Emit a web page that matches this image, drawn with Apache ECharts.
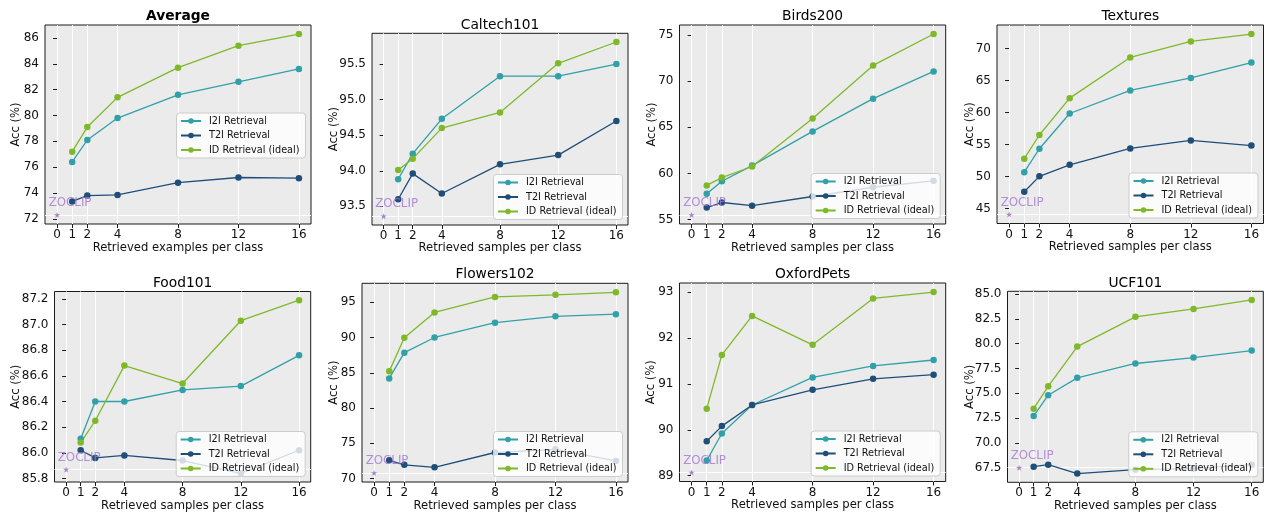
<!DOCTYPE html>
<html><head><meta charset="utf-8">
<script src="https://cdn.jsdelivr.net/npm/echarts@6/dist/echarts.min.js"></script>
<style>html,body{margin:0;padding:0;background:#fff}#c{width:1270px;height:516px}</style>
</head><body><div id="c"></div>
<script>
// ---------------- data ----------------
const xTicks = [0, 1, 2, 4, 8, 12, 16];
const shots = [1, 2, 4, 8, 12, 16];
const titles = ['Average', 'Caltech101', 'Birds200', 'Textures', 'Food101', 'Flowers102', 'OxfordPets', 'UCF101'];
const xNames = ['Retrieved examples per class', 'Retrieved samples per class', 'Retrieved samples per class', 'Retrieved samples per class',
  'Retrieved samples per class', 'Retrieved samples per class', 'Retrieved samples per class', 'Retrieved samples per class'];
const yName = 'Acc (%)';
const seriesNames = ['I2I Retrieval', 'T2I Retrieval', 'ID Retrieval (ideal)'];
const zoclipName = 'ZOCLIP';

const average_i2i = [76.4, 78.1, 79.8, 81.6, 82.6, 83.6];
const average_t2i = [73.35, 73.8, 73.85, 74.8, 75.2, 75.15];
const average_id = [77.2, 79.1, 81.4, 83.7, 85.4, 86.3];

const caltech_i2i = [93.88, 94.24, 94.73, 95.33, 95.33, 95.5];
const caltech_t2i = [93.6, 93.96, 93.68, 94.09, 94.22, 94.7];
const caltech_id = [94.01, 94.17, 94.6, 94.82, 95.51, 95.81];

const birds_i2i = [57.8, 59.15, 60.85, 64.55, 68.1, 71.05];
const birds_t2i = [56.3, 56.85, 56.5, 57.5, 58.5, 59.2];
const birds_id = [58.7, 59.55, 60.75, 65.95, 71.7, 75.1];

const textures_i2i = [50.7, 54.35, 59.85, 63.45, 65.4, 67.8];
const textures_t2i = [47.65, 50.05, 51.85, 54.4, 55.65, 54.85];
const textures_id = [52.8, 56.5, 62.25, 68.6, 71.1, 72.25];

const food_i2i = [86.11, 86.40, 86.40, 86.49, 86.52, 86.76];
const food_t2i = [86.02, 85.96, 85.98, 85.94, 85.84, 86.02];
const food_id = [86.08, 86.25, 86.68, 86.54, 87.03, 87.19];

const flowers_i2i = [84.2, 87.85, 90.0, 92.1, 93.0, 93.3];
const flowers_t2i = [72.6, 71.95, 71.6, 73.7, 74.15, 72.5];
const flowers_id = [85.2, 89.95, 93.55, 95.75, 96.05, 96.4];

const pets_i2i = [89.33, 89.92, 90.54, 91.14, 91.39, 91.52];
const pets_t2i = [89.75, 90.08, 90.54, 90.87, 91.11, 91.2];
const pets_id = [90.46, 91.63, 92.48, 91.85, 92.86, 93.0];

const ucf_i2i = [72.7, 74.8, 76.55, 78.0, 78.6, 79.3];
const ucf_t2i = [67.6, 67.8, 66.9, 67.3, 67.4, 67.8];
const ucf_id = [73.45, 75.7, 79.7, 82.7, 83.5, 84.4];

const zoclip = [72.3, 93.36, 55.5, 44.1, 85.87, 70.8, 89.07, 67.5];

const yTickLabels = [
  ['72', '74', '76', '78', '80', '82', '84', '86'],
  ['93.5', '94.0', '94.5', '95.0', '95.5'],
  ['55', '60', '65', '70', '75'],
  ['45', '50', '55', '60', '65', '70'],
  ['85.8', '86.0', '86.2', '86.4', '86.6', '86.8', '87.0', '87.2'],
  ['70', '75', '80', '85', '90', '95'],
  ['89', '90', '91', '92', '93'],
  ['67.5', '70.0', '72.5', '75.0', '77.5', '80.0', '82.5', '85.0']
];

const panels = [
  [average_i2i, average_t2i, average_id],
  [caltech_i2i, caltech_t2i, caltech_id],
  [birds_i2i, birds_t2i, birds_id],
  [textures_i2i, textures_t2i, textures_id],
  [food_i2i, food_t2i, food_id],
  [flowers_i2i, flowers_t2i, flowers_id],
  [pets_i2i, pets_t2i, pets_id],
  [ucf_i2i, ucf_t2i, ucf_id]
];

// ---------------- layout / style ----------------
const layout = [
  {l: 45, r: 311, t: 25, b: 224, yGap: 23, xGap: 17.5, ty: 16, legTop: 113},
  {l: 372, r: 628, t: 33.3, b: 225, yGap: 32, xGap: 16.5, ty: 25},
  {l: 679.5, r: 945.7, t: 25, b: 224, yGap: 22, xGap: 17.5, ty: 16.7},
  {l: 997, r: 1263.5, t: 25, b: 223.5, yGap: 21, xGap: 17.5, ty: 16.7},
  {l: 54.5, r: 310.7, t: 291.5, b: 482, yGap: 32.5, xGap: 17.5, ty: 283},
  {l: 362, r: 628, t: 283.3, b: 482, yGap: 22.5, xGap: 17.5, ty: 274.7},
  {l: 679.5, r: 945.7, t: 283, b: 481.5, yGap: 22.5, xGap: 17.5, ty: 274.7},
  {l: 1007.5, r: 1263.3, t: 291.3, b: 482.3, yGap: 31.5, xGap: 17.5, ty: 283}
];
const colors = ['#31A0A8', '#1F4E79', '#7FB92A'];
const FONT = 'DejaVu Sans';
const TXT = '#111111';
const starPath = 'path://M0,-10 L2.35,-3.24 L9.51,-3.09 L3.8,1.24 L5.88,8.09 L0,4 L-5.88,8.09 L-3.8,1.24 L-9.51,-3.09 L-2.35,-3.24 Z';

const grid = [], xAxis = [], yAxis = [], series = [], legend = [], graphic = [];

panels.forEach((p, i) => {
  const L = layout[i];
  grid.push({left: L.l, top: L.t, width: L.r - L.l, height: L.b - L.t, show: true,
    backgroundColor: '#EBEBEB', borderColor: '#1a1a1a', borderWidth: 1});
  const all = p.flat().concat([zoclip[i]]);
  const lo = Math.min(...all), hi = Math.max(...all), pad = (hi - lo) * 0.05;
  const labels = yTickLabels[i];
  const yt = labels.map(Number);
  xAxis.push({
    type: 'value', gridIndex: i, min: -0.8, max: 16.8,
    name: xNames[i], nameLocation: 'middle', nameGap: L.xGap, nameMoveOverlap: false,
    nameTextStyle: {fontFamily: FONT, fontSize: 11.6, color: TXT},
    axisLine: {show: false},
    axisTick: {show: true, customValues: xTicks, length: 4, lineStyle: {color: '#1a1a1a', width: 1}},
    axisLabel: {customValues: xTicks, margin: 5, fontFamily: FONT, fontSize: 12, color: TXT},
    splitLine: {show: false}
  });
  yAxis.push({
    type: 'value', gridIndex: i, min: lo - pad, max: hi + pad,
    name: yName, nameLocation: 'middle', nameGap: L.yGap, nameMoveOverlap: false,
    nameTextStyle: {fontFamily: FONT, fontSize: 11.6, color: TXT},
    axisLine: {show: false},
    axisTick: {show: true, customValues: yt, length: 4, lineStyle: {color: '#1a1a1a', width: 1}},
    axisLabel: {customValues: yt, margin: 6, fontFamily: FONT, fontSize: 12, color: TXT,
      formatter: v => { const k = yt.findIndex(t => Math.abs(t - v) < 1e-6); return k >= 0 ? labels[k] : ''; }},
    splitLine: {show: false}
  });
  p.forEach((vals, k) => {
    series.push({
      type: 'line', name: seriesNames[k], xAxisIndex: i, yAxisIndex: i,
      data: shots.map((s, j) => [s, vals[j]]),
      symbol: 'circle', symbolSize: 6.5, showSymbol: true,
      color: colors[k], lineStyle: {width: 1.3, color: colors[k]}, itemStyle: {color: colors[k]},
      z: 2, animation: false, silent: true
    });
  });
  series.push({
    type: 'scatter', name: zoclipName, xAxisIndex: i, yAxisIndex: i,
    data: [[0, zoclip[i]]], symbol: starPath, symbolSize: 6,
    itemStyle: {color: '#9467BD'}, z: 3, silent: true, animation: false,
    label: {show: true, formatter: zoclipName, position: 'top', offset: [13, 1], distance: 4,
      color: '#A374D2', fontFamily: FONT, fontSize: 11.8},
    markLine: {
      silent: true, symbol: 'none', z: 1, animation: false,
      label: {show: false},
      lineStyle: {color: '#ffffff', width: 1, type: 'solid', opacity: 1},
      emphasis: {disabled: true},
      data: xTicks.map(x => ({xAxis: x})).concat([{yAxis: zoclip[i]}])
    }
  });
  const leg = {
    data: seriesNames, orient: 'vertical', selectedMode: false,
    right: 1270 - (L.r - 5.5),
    itemWidth: 20, itemHeight: 7, itemGap: 2.5,
    padding: [2, 6, 2, 3.5],
    backgroundColor: 'rgba(255,255,255,0.8)', borderColor: '#CCCCCC', borderWidth: 1, borderRadius: 3,
    textStyle: {fontFamily: FONT, fontSize: 9.7, color: TXT, lineHeight: 12, padding: [0, 0, 0, 3]}
  };
  if (L.legTop !== undefined) leg.top = L.legTop; else leg.bottom = 516 - (L.b - 5.5);
  legend.push(leg);
  graphic.push({
    type: 'text', x: (L.l + L.r) / 2, y: L.ty, silent: true,
    style: {text: titles[i], fill: '#000', font: (i === 0 ? 'bold ' : '') + '13.8px "DejaVu Sans"',
      align: 'center', verticalAlign: 'middle', textAlign: 'center', textVerticalAlign: 'middle'}
  });
});

const chart = echarts.init(document.getElementById('c'), null, {renderer: 'canvas'});
chart.setOption({
  animation: false,
  backgroundColor: '#ffffff',
  grid, xAxis, yAxis, series, legend, graphic
});
</script>
</body></html>
